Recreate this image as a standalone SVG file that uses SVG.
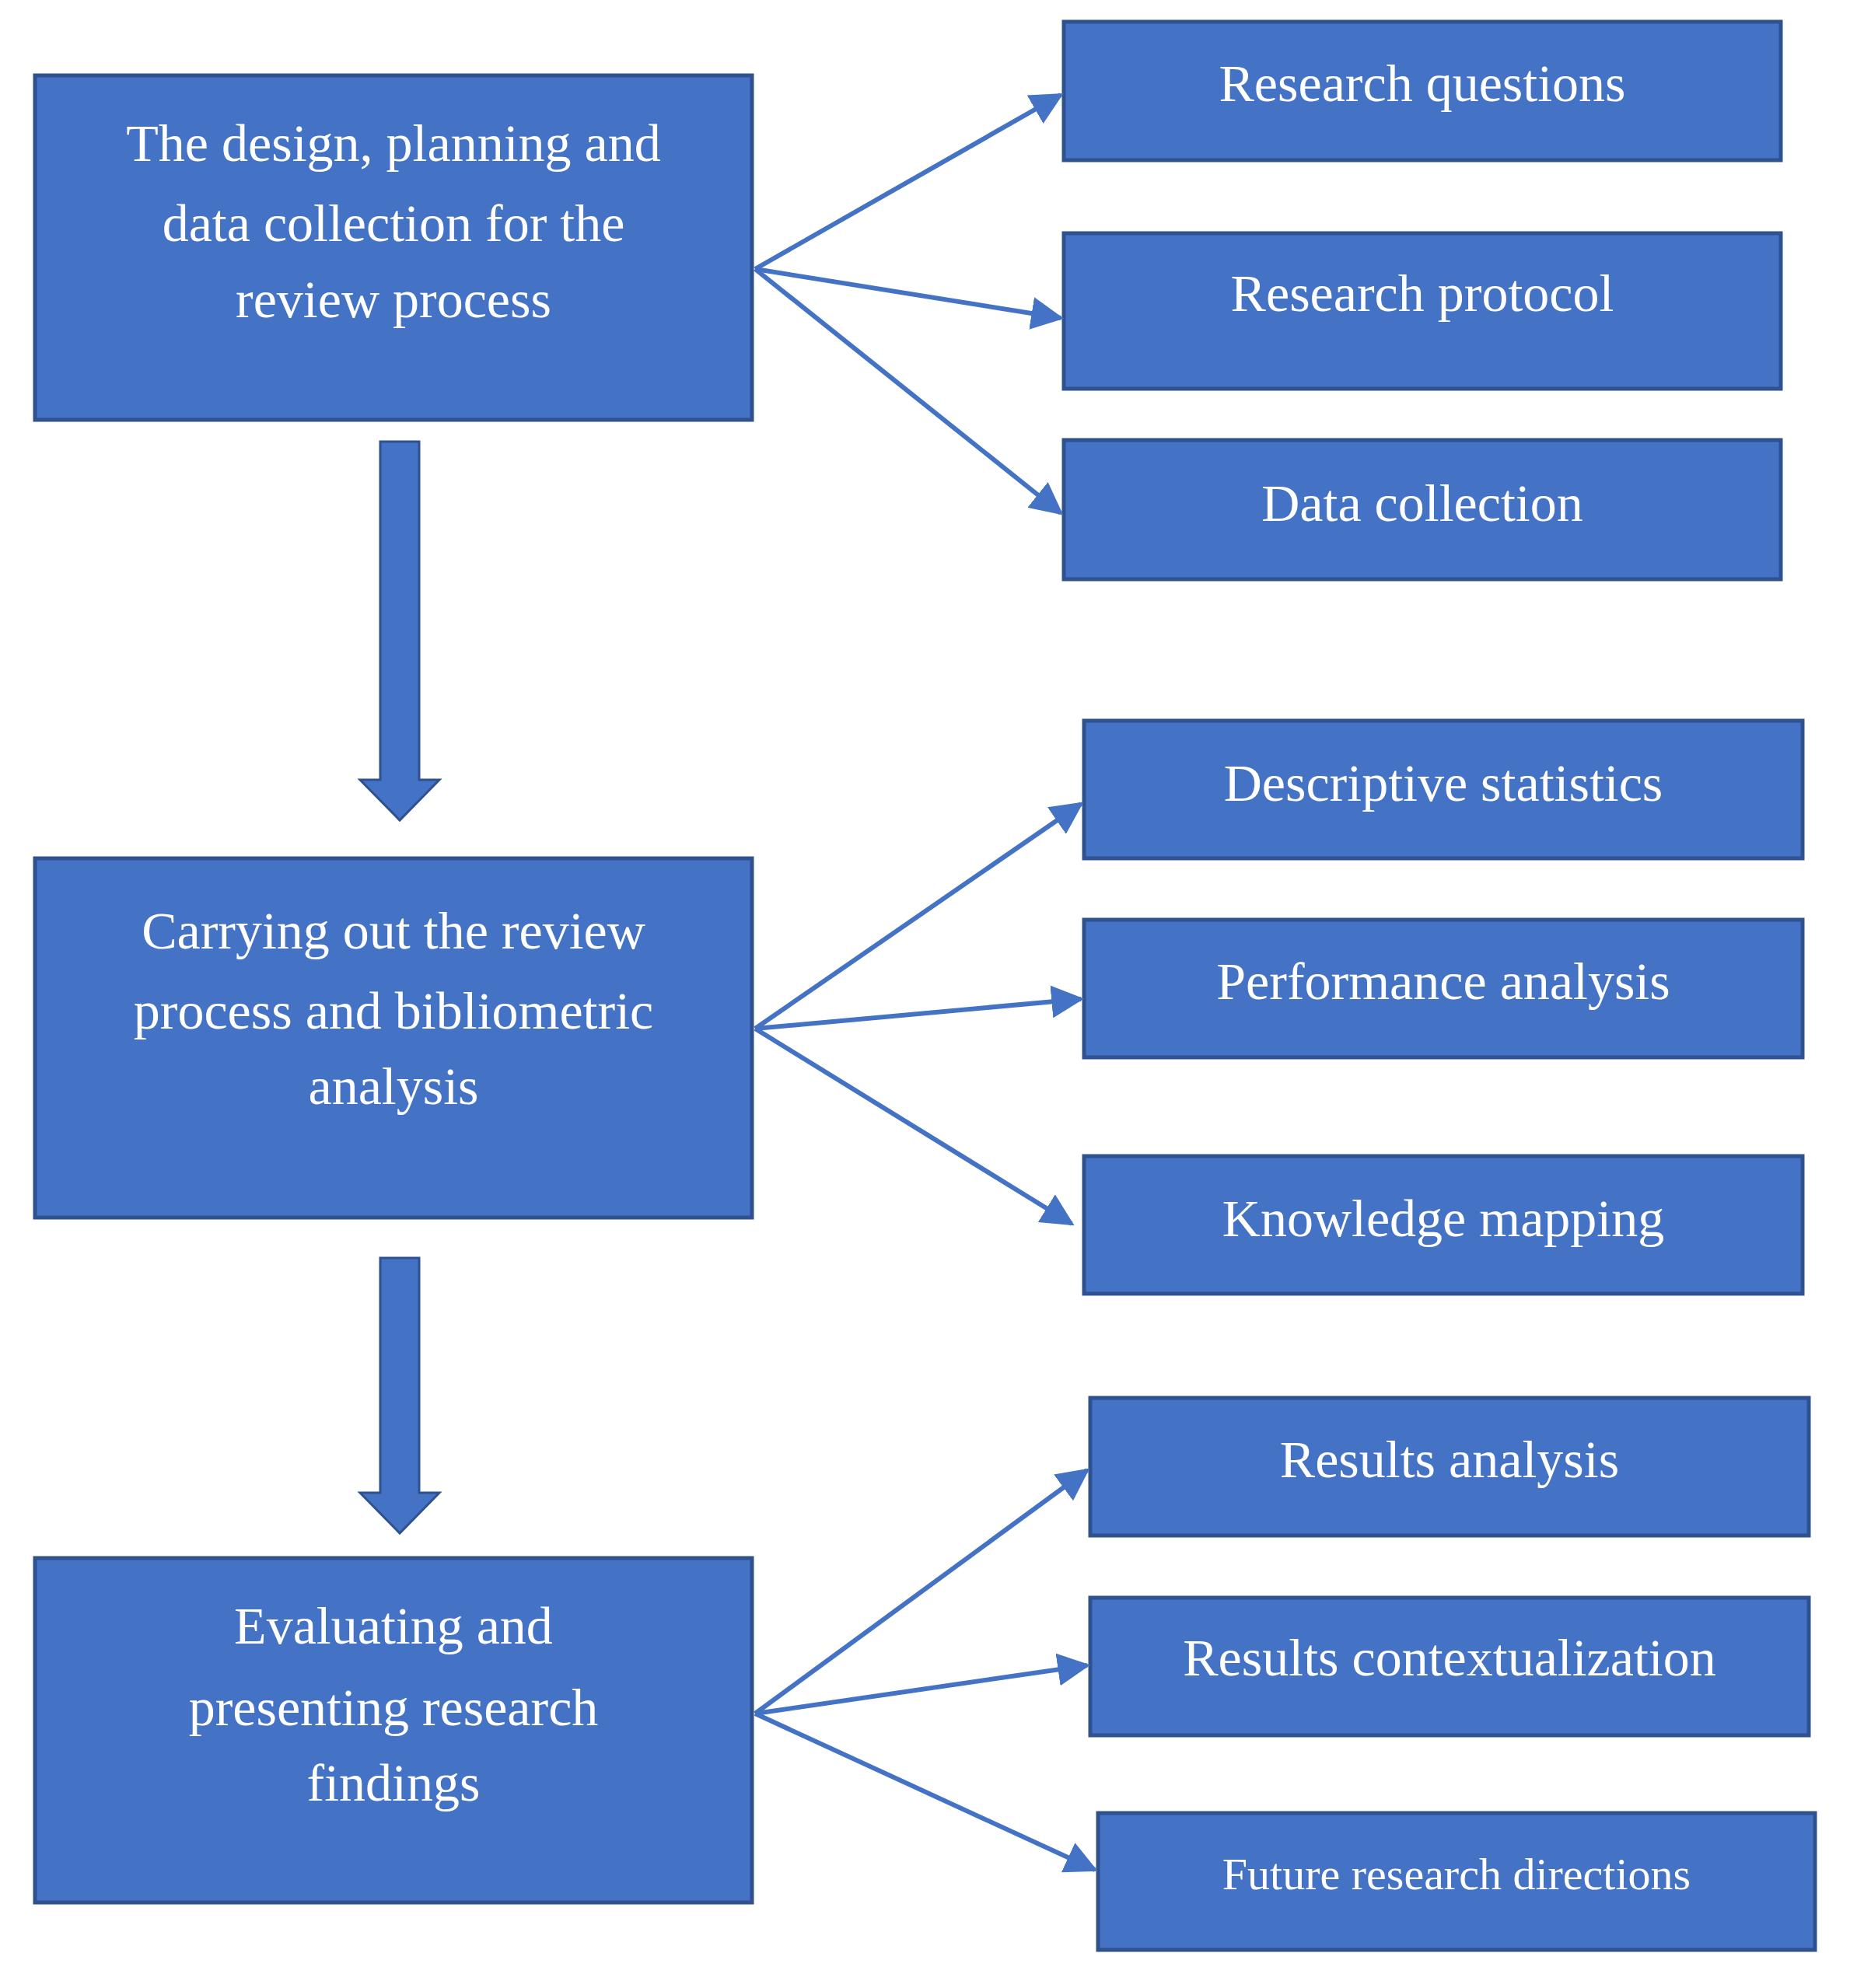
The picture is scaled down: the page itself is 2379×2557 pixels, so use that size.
<svg xmlns="http://www.w3.org/2000/svg" width="2379" height="2557" viewBox="0 0 2379 2557">
<style>
.b{fill:#4472C4;stroke:#2F528F;stroke-width:5}
.t{fill:#fff;font-family:"Liberation Serif",serif;font-size:68px;text-anchor:middle}
.c{stroke:#4472C4;stroke-width:6;fill:none;marker-end:url(#ah)}
.d{fill:#4472C4;stroke:#2F528F;stroke-width:3}
</style>
<defs><marker id="ah" viewBox="0 0 10 10" refX="9" refY="5" markerWidth="7" markerHeight="7" orient="auto" markerUnits="strokeWidth"><path d="M0,0L10,5L0,10z" fill="#4472C4"/></marker></defs>
<rect width="2379" height="2557" fill="#fff"/>
<g id="n1"><rect class="b" x="45" y="97" width="922" height="443"/><text class="t" x="506" y="207">The design, planning and</text><text class="t" x="506" y="310">data collection for the</text><text class="t" x="506" y="408">review process</text></g>
<g id="n2"><rect class="b" x="45" y="1104" width="922" height="462"/><text class="t" x="506" y="1220">Carrying out the review</text><text class="t" x="506" y="1323">process and bibliometric</text><text class="t" x="506" y="1420">analysis</text></g>
<g id="n3"><rect class="b" x="45" y="2004" width="922" height="443"/><text class="t" x="506" y="2114">Evaluating and</text><text class="t" x="506" y="2219">presenting research</text><text class="t" x="506" y="2316">findings</text></g>
<g id="r1"><rect class="b" x="1368" y="28" width="922" height="178"/><text class="t" x="1829" y="130">Research questions</text></g>
<g id="r2"><rect class="b" x="1368" y="300" width="922" height="200"/><text class="t" x="1829" y="400">Research protocol</text></g>
<g id="r3"><rect class="b" x="1368" y="566" width="922" height="179"/><text class="t" x="1829" y="670">Data collection</text></g>
<g id="r4"><rect class="b" x="1394" y="927" width="924" height="177"/><text class="t" x="1856" y="1030">Descriptive statistics</text></g>
<g id="r5"><rect class="b" x="1394" y="1183" width="924" height="177"/><text class="t" x="1856" y="1285">Performance analysis</text></g>
<g id="r6"><rect class="b" x="1394" y="1487" width="924" height="177"/><text class="t" x="1856" y="1590">Knowledge mapping</text></g>
<g id="r7"><rect class="b" x="1402" y="1798" width="924" height="177"/><text class="t" x="1864" y="1900">Results analysis</text></g>
<g id="r8"><rect class="b" x="1402" y="2055" width="924" height="177"/><text class="t" x="1864" y="2155">Results contextualization</text></g>
<g id="r9"><rect class="b" x="1412" y="2332" width="922" height="176"/><text class="t" x="1873" y="2430" style="font-size:58px">Future research directions</text></g>
<g id="connectors">
<path class="d" d="M489,568H539V1003H565L514,1055L463,1003H489Z"/>
<path class="d" d="M489,1618H539V1920H565L514,1972L463,1920H489Z"/>
<line class="c" x1="971" y1="346" x2="1364" y2="122"/>
<line class="c" x1="971" y1="346" x2="1364" y2="409"/>
<line class="c" x1="971" y1="346" x2="1364" y2="660"/>
<line class="c" x1="971" y1="1323" x2="1390" y2="1034"/>
<line class="c" x1="971" y1="1323" x2="1390" y2="1285"/>
<line class="c" x1="971" y1="1323" x2="1378" y2="1574"/>
<line class="c" x1="971" y1="2204" x2="1398" y2="1891"/>
<line class="c" x1="971" y1="2204" x2="1398" y2="2142"/>
<line class="c" x1="971" y1="2204" x2="1408" y2="2405"/>
</g>
</svg>
